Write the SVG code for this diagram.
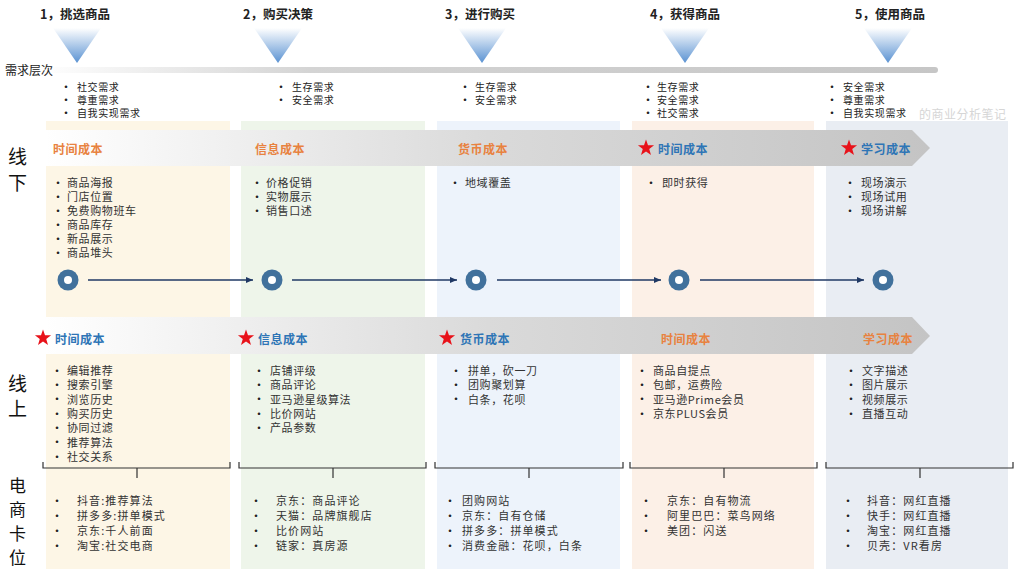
<svg xmlns="http://www.w3.org/2000/svg" xmlns:xlink="http://www.w3.org/1999/xlink" width="1024" height="576" viewBox="0 0 1024 576">
<style>
text{font-family:"Noto Sans CJK SC","Liberation Sans",sans-serif;dominant-baseline:central;fill:#222}
.step{font-size:12.5px;font-weight:bold;fill:#222}
.side{font-size:19px;fill:#111}
.side2{font-size:17px;fill:#111}
.lvl{font-size:12px;fill:#222}
.s10{font-size:10px;letter-spacing:0.6px}
.s11{font-size:11px;letter-spacing:0.6px;fill:#333}
.s12{font-size:11px;letter-spacing:1.1px;fill:#333}
.or{font-size:12px;font-weight:bold;fill:#e8823f;letter-spacing:0.5px}
.bl{font-size:12px;font-weight:bold;fill:#2e75b6;letter-spacing:0.5px}
.bul{font-size:10px;font-weight:bold;fill:#222}
.brk{fill:none;stroke:#333;stroke-width:1.2}
.conn{stroke:#1f3864;stroke-width:1.5;fill:none}
.wm{font-size:12px;fill:#d6d6d6;letter-spacing:0.5px}
</style>
<defs>
<linearGradient id="tri" x1="0" y1="0" x2="0" y2="1">
<stop offset="0" stop-color="#ffffff"/>
<stop offset="1" stop-color="#5a92d2"/>
</linearGradient>
<linearGradient id="bar" x1="0" y1="0" x2="1" y2="0">
<stop offset="0" stop-color="#ffffff"/>
<stop offset="0.3" stop-color="#d4d4d4"/>
<stop offset="1" stop-color="#c6c6c6"/>
</linearGradient>
<linearGradient id="band" x1="0" y1="0" x2="1" y2="0">
<stop offset="0" stop-color="#ffffff"/>
<stop offset="0.5" stop-color="#dadada"/>
<stop offset="1" stop-color="#c4c4c4"/>
</linearGradient>
<polygon id="star" fill="#e8121a" points="0,-8.5 2,-2.75 8.08,-2.63 3.23,1.05 5,6.88 0,3.4 -5,6.88 -3.23,1.05 -8.08,-2.63 -2,-2.75"/>
<polygon id="tr" fill="url(#tri)" points="-24,0 24,0 0,35"/>
<marker id="ah" markerWidth="8" markerHeight="8" refX="7" refY="4" orient="auto" markerUnits="userSpaceOnUse">
<path d="M0,1 L7,4 L0,7 Z" fill="#1f3864"/>
</marker>
<g id="ring"><circle r="10.5" fill="#41719c"/><circle r="4" fill="#ffffff"/></g>
</defs>
<rect width="1024" height="576" fill="#ffffff"/>

<g id="panels">
<rect x="46" y="121" width="184" height="448" fill="#fdf6e6"/>
<rect x="241" y="121" width="184" height="448" fill="#eef5ea"/>
<rect x="437" y="121" width="183" height="448" fill="#edf3fb"/>
<rect x="632" y="121" width="182" height="448" fill="#fcf0e7"/>
<rect x="826" y="121" width="182" height="448" fill="#e9edf3"/>
</g>

<g id="header">
<text class="step" x="40" y="13">1，挑选商品</text>
<text class="step" x="243" y="13">2，购买决策</text>
<text class="step" x="445" y="13">3，进行购买</text>
<text class="step" x="650" y="13">4，获得商品</text>
<text class="step" x="855" y="13">5，使用商品</text>
<use xlink:href="#tr" x="77" y="28"/>
<use xlink:href="#tr" x="278" y="28"/>
<use xlink:href="#tr" x="482" y="28"/>
<use xlink:href="#tr" x="685" y="28"/>
<use xlink:href="#tr" x="888" y="28"/>
<rect x="40" y="67" width="898" height="6" rx="3" fill="url(#bar)"/>
<text class="lvl" x="5" y="69">需求层次</text>
</g>

<g id="needs">
<text class="bul" x="61" y="86">•</text><text class="s10" x="77" y="86">社交需求</text>
<text class="bul" x="61" y="99">•</text><text class="s10" x="77" y="99">尊重需求</text>
<text class="bul" x="61" y="112">•</text><text class="s10" x="77" y="112">自我实现需求</text>
<text class="bul" x="276" y="86">•</text><text class="s10" x="292" y="86">生存需求</text>
<text class="bul" x="276" y="99">•</text><text class="s10" x="292" y="99">安全需求</text>
<text class="bul" x="460" y="86">•</text><text class="s10" x="475" y="86">生存需求</text>
<text class="bul" x="460" y="99">•</text><text class="s10" x="475" y="99">安全需求</text>
<text class="bul" x="643" y="86">•</text><text class="s10" x="657" y="86">生存需求</text>
<text class="bul" x="643" y="99">•</text><text class="s10" x="657" y="99">安全需求</text>
<text class="bul" x="643" y="112">•</text><text class="s10" x="657" y="112">社交需求</text>
<text class="wm" x="919" y="113">的商业分析笔记</text>
<text class="bul" x="827" y="86">•</text><text class="s10" x="843" y="86">安全需求</text>
<text class="bul" x="827" y="99">•</text><text class="s10" x="843" y="99">尊重需求</text>
<text class="bul" x="827" y="112">•</text><text class="s10" x="843" y="112">自我实现需求</text>
</g>

<g id="offline">
<polygon points="46,130 912,130 930,148 912,166 46,166" fill="url(#band)"/>
<text class="side" x="8" y="155">线</text>
<text class="side" x="8" y="181">下</text>
<text class="or" x="53" y="148">时间成本</text>
<text class="or" x="255" y="148">信息成本</text>
<text class="or" x="458" y="148">货币成本</text>
<use xlink:href="#star" x="646" y="148"/>
<text class="bl" x="658" y="148">时间成本</text>
<use xlink:href="#star" x="849" y="148"/>
<text class="bl" x="861" y="148">学习成本</text>

<text class="bul" x="53" y="182">•</text><text class="s11" x="67" y="182">商品海报</text>
<text class="bul" x="53" y="196">•</text><text class="s11" x="67" y="196">门店位置</text>
<text class="bul" x="53" y="210">•</text><text class="s11" x="67" y="210">免费购物班车</text>
<text class="bul" x="53" y="224">•</text><text class="s11" x="67" y="224">商品库存</text>
<text class="bul" x="53" y="238">•</text><text class="s11" x="67" y="238">新品展示</text>
<text class="bul" x="53" y="252">•</text><text class="s11" x="67" y="252">商品堆头</text>

<text class="bul" x="252" y="182">•</text><text class="s11" x="266" y="182">价格促销</text>
<text class="bul" x="252" y="196">•</text><text class="s11" x="266" y="196">实物展示</text>
<text class="bul" x="252" y="210">•</text><text class="s11" x="266" y="210">销售口述</text>

<text class="bul" x="450" y="182">•</text><text class="s11" x="465" y="182">地域覆盖</text>

<text class="bul" x="646" y="182">•</text><text class="s11" x="662" y="182">即时获得</text>

<text class="bul" x="845" y="182">•</text><text class="s11" x="861" y="182">现场演示</text>
<text class="bul" x="845" y="196">•</text><text class="s11" x="861" y="196">现场试用</text>
<text class="bul" x="845" y="210">•</text><text class="s11" x="861" y="210">现场讲解</text>
</g>

<g id="timeline">
<use xlink:href="#ring" x="68" y="280"/>
<use xlink:href="#ring" x="272" y="280"/>
<use xlink:href="#ring" x="476" y="280"/>
<use xlink:href="#ring" x="679" y="280"/>
<use xlink:href="#ring" x="883" y="280"/>
</g>

<g id="connectors">
<line class="conn" x1="88" y1="280" x2="253" y2="280" marker-end="url(#ah)"/>
<line class="conn" x1="292" y1="280" x2="457" y2="280" marker-end="url(#ah)"/>
<line class="conn" x1="497" y1="280" x2="661" y2="280" marker-end="url(#ah)"/>
<line class="conn" x1="700" y1="280" x2="864" y2="280" marker-end="url(#ah)"/>
</g>

<g id="online">
<polygon points="46,317 912,317 930,336 912,354 46,354" fill="url(#band)"/>
<text class="side" x="8" y="382">线</text>
<text class="side" x="8" y="407">上</text>
<use xlink:href="#star" x="43" y="338"/>
<text class="bl" x="55" y="338">时间成本</text>
<use xlink:href="#star" x="246" y="338"/>
<text class="bl" x="258" y="338">信息成本</text>
<use xlink:href="#star" x="447" y="338"/>
<text class="bl" x="460" y="338">货币成本</text>
<text class="or" x="661" y="338">时间成本</text>
<text class="or" x="863" y="338">学习成本</text>

<text class="bul" x="52" y="370">•</text><text class="s11" x="67" y="370">编辑推荐</text>
<text class="bul" x="52" y="384">•</text><text class="s11" x="67" y="384">搜索引擎</text>
<text class="bul" x="52" y="398.5">•</text><text class="s11" x="67" y="398.5">浏览历史</text>
<text class="bul" x="52" y="413">•</text><text class="s11" x="67" y="413">购买历史</text>
<text class="bul" x="52" y="427">•</text><text class="s11" x="67" y="427">协同过滤</text>
<text class="bul" x="52" y="441.5">•</text><text class="s11" x="67" y="441.5">推荐算法</text>
<text class="bul" x="52" y="456">•</text><text class="s11" x="67" y="456">社交关系</text>

<text class="bul" x="254" y="370">•</text><text class="s11" x="270" y="370">店铺评级</text>
<text class="bul" x="254" y="384">•</text><text class="s11" x="270" y="384">商品评论</text>
<text class="bul" x="254" y="398.5">•</text><text class="s11" x="270" y="398.5">亚马逊星级算法</text>
<text class="bul" x="254" y="413">•</text><text class="s11" x="270" y="413">比价网站</text>
<text class="bul" x="254" y="427">•</text><text class="s11" x="270" y="427">产品参数</text>

<text class="bul" x="451" y="370">•</text><text class="s11" x="468" y="370">拼单，砍一刀</text>
<text class="bul" x="451" y="384">•</text><text class="s11" x="468" y="384">团购聚划算</text>
<text class="bul" x="451" y="398.5">•</text><text class="s11" x="468" y="398.5">白条，花呗</text>

<text class="bul" x="637" y="370">•</text><text class="s11" x="653" y="370">商品自提点</text>
<text class="bul" x="637" y="384">•</text><text class="s11" x="653" y="384">包邮，运费险</text>
<text class="bul" x="637" y="398.5">•</text><text class="s11" x="653" y="398.5" letter-spacing="0">亚马逊Prime会员</text>
<text class="bul" x="637" y="413">•</text><text class="s11" x="653" y="413" letter-spacing="0">京东PLUS会员</text>

<text class="bul" x="846" y="370">•</text><text class="s11" x="862" y="370">文字描述</text>
<text class="bul" x="846" y="384">•</text><text class="s11" x="862" y="384">图片展示</text>
<text class="bul" x="846" y="398.5">•</text><text class="s11" x="862" y="398.5">视频展示</text>
<text class="bul" x="846" y="413">•</text><text class="s11" x="862" y="413">直播互动</text>
</g>

<g id="brackets">
<path class="brk" d="M43,462 V468 H230 V462 M137,468 V478"/>
<path class="brk" d="M239,462 V468 H426 V462 M333,468 V478"/>
<path class="brk" d="M435,462 V468 H623 V462 M529,468 V478"/>
<path class="brk" d="M630,462 V468 H817 V462 M724,468 V478"/>
<path class="brk" d="M826,462 V468 H1013 V462 M920,468 V478"/>
</g>

<g id="ecommerce">
<text class="side2" x="9" y="484">电</text>
<text class="side2" x="9" y="508">商</text>
<text class="side2" x="9" y="532">卡</text>
<text class="side2" x="9" y="556">位</text>

<text class="bul" x="52" y="500">•</text><text class="s12" x="77" y="500">抖音:推荐算法</text>
<text class="bul" x="52" y="515">•</text><text class="s12" x="77" y="515">拼多多:拼单模式</text>
<text class="bul" x="52" y="530">•</text><text class="s12" x="77" y="530">京东:千人前面</text>
<text class="bul" x="52" y="545">•</text><text class="s12" x="77" y="545">淘宝:社交电商</text>

<text class="bul" x="251" y="500">•</text><text class="s12" x="276" y="500">京东：商品评论</text>
<text class="bul" x="251" y="515">•</text><text class="s12" x="276" y="515">天猫：品牌旗舰店</text>
<text class="bul" x="251" y="530">•</text><text class="s12" x="276" y="530">比价网站</text>
<text class="bul" x="251" y="545">•</text><text class="s12" x="276" y="545">链家：真房源</text>

<text class="bul" x="445" y="500">•</text><text class="s12" x="462" y="500">团购网站</text>
<text class="bul" x="445" y="515">•</text><text class="s12" x="462" y="515">京东：自有仓储</text>
<text class="bul" x="445" y="530">•</text><text class="s12" x="462" y="530">拼多多：拼单模式</text>
<text class="bul" x="445" y="545">•</text><text class="s12" x="462" y="545">消费金融：花呗，白条</text>

<text class="bul" x="641" y="500">•</text><text class="s12" x="667" y="500">京东：自有物流</text>
<text class="bul" x="641" y="515">•</text><text class="s12" x="667" y="515">阿里巴巴：菜鸟网络</text>
<text class="bul" x="641" y="530">•</text><text class="s12" x="667" y="530">美团：闪送</text>

<text class="bul" x="843" y="500">•</text><text class="s12" x="867" y="500">抖音：网红直播</text>
<text class="bul" x="843" y="515">•</text><text class="s12" x="867" y="515">快手：网红直播</text>
<text class="bul" x="843" y="530">•</text><text class="s12" x="867" y="530">淘宝：网红直播</text>
<text class="bul" x="843" y="545">•</text><text class="s12" x="867" y="545">贝壳：VR看房</text>
</g>
</svg>
